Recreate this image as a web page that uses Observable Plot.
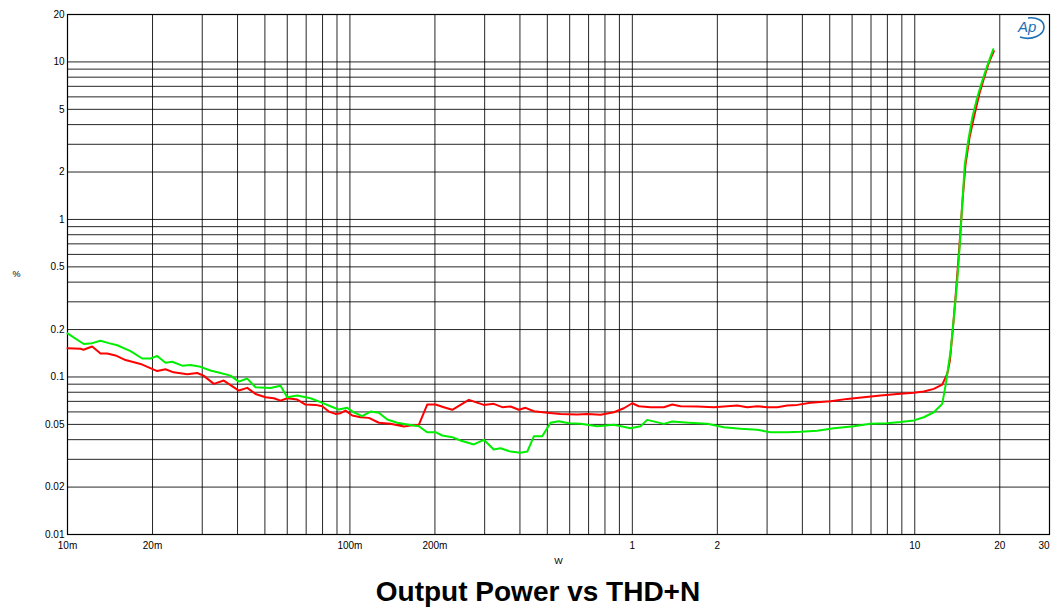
<!DOCTYPE html>
<html><head><meta charset="utf-8">
<script src="https://cdn.jsdelivr.net/npm/d3@7"></script>
<script src="https://cdn.jsdelivr.net/npm/@observablehq/plot@0.6"></script>
<style>
body{margin:0;background:#fff;font-family:"Liberation Sans",Arial,sans-serif;}
#wrap{position:relative;width:1051px;height:607px;overflow:hidden;}
#title{position:absolute;left:0;top:578px;width:1076px;text-align:center;font-weight:bold;font-size:28px;line-height:28px;color:#000;}
#logo{position:absolute;left:1014px;top:16px;}
</style></head>
<body><div id="wrap"><div id="chart"></div>
<svg id="logo" width="32" height="24" viewBox="0 0 32 24">
<path d="M6 21 C 18 25, 30 19, 30 11 C 30 4, 22 1, 14 2" fill="none" stroke="#1a6fb5" stroke-width="1.6"/>
<text x="4" y="16" font-family="Liberation Sans, Arial" font-style="italic" font-size="15" fill="#1a6fb5">Ap</text>
</svg>
<div id="title">Output Power vs THD+N</div></div>
<script>
const xTicks = [0.01,0.02,0.05,0.1,0.2,0.5,1,2,5,10,20,30];
const xTickLabels = ["10m","20m","50m","100m","200m","500m","1","2","5","10","20","30"];
const yTicks = [0.01,0.02,0.05,0.1,0.2,0.5,1,2,5,10,20];
const yTickLabels = ["0.01","0.02","0.05","0.1","0.2","0.5","1","2","5","10","20"];

const redX = [0.0100,0.01112,0.01139,0.01223,0.01309,0.01382,0.01479,0.01605,0.01814,0.02078,0.02223,0.02374,0.02654,0.02880,0.03031,0.03297,0.03576,0.04042,0.04329,0.04632,0.05025,0.05377,0.05679,0.05998,0.06508,0.06963,0.07553,0.07978,0.08420,0.08892,0.09262,0.09647,0.1019,0.1090,0.1167,0.1266,0.1392,0.1552,0.1639,0.1754,0.1878,0.2010,0.2150,0.2303,0.2636,0.2980,0.3231,0.3461,0.3705,0.3963,0.4187,0.4480,0.4995,0.5569,0.6381,0.6923,0.7717,0.8602,0.9331,0.9991,1.054,1.160,1.293,1.385,1.481,1.698,1.944,2.168,2.352,2.552,2.769,3.004,3.260,3.536,3.837,4.276,5.032,5.768,6.602,7.568,8.670,9.93,10.77,11.68,12.51,13.04,13.32,13.69,14.03,14.41,14.73,15.13,15.63,16.19,16.92,17.57,18.30,19.06];
const redY = [0.152,0.151,0.149,0.156,0.141,0.141,0.137,0.128,0.121,0.109,0.112,0.107,0.104,0.106,0.102,0.0904,0.0949,0.082,0.0853,0.078,0.0743,0.0733,0.0708,0.0733,0.0719,0.0668,0.0665,0.0652,0.0603,0.0583,0.0589,0.0612,0.0569,0.0555,0.055,0.0512,0.0504,0.0485,0.0492,0.0497,0.0668,0.0668,0.0643,0.0619,0.0716,0.0665,0.0675,0.0643,0.0649,0.0619,0.0637,0.0606,0.0592,0.0583,0.0577,0.0583,0.0575,0.0597,0.0633,0.0681,0.0652,0.0643,0.0643,0.0668,0.0652,0.0649,0.0643,0.0652,0.066,0.0643,0.0652,0.0643,0.0643,0.0659,0.0665,0.0685,0.0701,0.0726,0.0743,0.0763,0.0781,0.0793,0.0808,0.0840,0.0895,0.105,0.127,0.217,0.369,0.698,1.25,2.24,3.31,4.43,6.24,7.85,9.9,11.7];

const greenX = [0.0100,0.01142,0.01223,0.01309,0.01400,0.01500,0.01672,0.01839,0.01968,0.02078,0.02223,0.02348,0.02549,0.02727,0.02958,0.03209,0.03482,0.03778,0.04042,0.04329,0.04632,0.05235,0.05679,0.05998,0.06508,0.07253,0.07868,0.08535,0.09135,0.09781,0.1032,0.1105,0.1183,0.1266,0.1356,0.1471,0.1596,0.1754,0.1878,0.2010,0.2122,0.2303,0.2464,0.2747,0.2980,0.3231,0.3414,0.3705,0.4018,0.4246,0.4480,0.4797,0.5132,0.5492,0.5960,0.6556,0.7510,0.8602,0.9854,1.069,1.129,1.293,1.385,1.585,1.842,2.109,2.416,2.769,3.086,3.536,3.941,4.515,5.170,6.086,6.975,7.991,8.906,9.93,10.77,11.68,12.51,12.85,13.40,13.76,14.14,14.44,14.73,15.04,15.46,15.98,16.64,17.34,18.15,18.97];
const greenY = [0.189,0.162,0.164,0.170,0.164,0.159,0.146,0.131,0.131,0.136,0.123,0.125,0.118,0.119,0.116,0.110,0.106,0.102,0.0935,0.0977,0.086,0.085,0.088,0.0743,0.0763,0.0733,0.0692,0.0652,0.0621,0.0637,0.0597,0.0564,0.0603,0.0592,0.0537,0.0512,0.050,0.0487,0.0446,0.0446,0.0425,0.0415,0.0395,0.0373,0.0399,0.0346,0.0353,0.0336,0.033,0.0336,0.042,0.042,0.0512,0.0524,0.0509,0.0504,0.0487,0.0497,0.0473,0.0487,0.0534,0.0504,0.0521,0.0512,0.0504,0.048,0.0469,0.0462,0.0446,0.0446,0.0449,0.0456,0.0473,0.0487,0.0504,0.0509,0.0517,0.0530,0.0555,0.0597,0.0675,0.0882,0.147,0.239,0.409,0.698,1.25,2.24,3.15,4.43,5.94,7.6,9.69,12.05];

const red = redX.map((x,i)=>({x, y: redY[i]}));
const green = greenX.map((x,i)=>({x, y: greenY[i]}));

// grid positions: 1..9 per decade
const gridX = [], gridY = [];
for (const d of [0.01,0.1,1,10]) for (let k=1;k<=9;k++){ const v=+(d*k).toPrecision(3); if (v>=0.01 && v<=30) gridX.push(v); if (v>=0.01 && v<=20) gridY.push(v); }

const xFmt = new Map(xTicks.map((t,i)=>[t,xTickLabels[i]]));
const yFmt = new Map(yTicks.map((t,i)=>[t,yTickLabels[i]]));
const xTicksMain = xTicks.slice(0, -1);
const xTickLast = xTicks.slice(-1);

const chart = Plot.plot({
  width: 1051, height: 572,
  marginLeft: 67, marginRight: 2, marginTop: 14, marginBottom: 38,
  style: {fontFamily: '"Liberation Sans", Arial, sans-serif', fontSize: "10px", color: "#000", background: "#fff"},
  x: {type: "log", domain: [0.01, 30]},
  y: {type: "log", domain: [0.01, 20]},
  marks: [
    Plot.ruleX(gridX, {stroke: "#000", strokeOpacity: 0.85, strokeWidth: 1}),
    Plot.ruleY(gridY, {stroke: "#000", strokeOpacity: 0.85, strokeWidth: 1}),
    Plot.frame({stroke: "#000", strokeWidth: 1.2}),
    Plot.axisX(xTicksMain, {tickSize: 0, tickPadding: 7, tickFormat: d => xFmt.get(d), label: null, fontSize: 10}),
    Plot.axisX(xTickLast, {tickSize: 0, tickPadding: 7, tickFormat: d => xFmt.get(d), label: null, fontSize: 10, textAnchor: "end", dx: 0}),
    Plot.axisY(yTicks, {tickSize: 0, tickPadding: 3, tickFormat: d => yFmt.get(d), label: null, fontSize: 10}),
    Plot.text(["W"], {frameAnchor: "bottom", dy: 29, fontSize: 9}),
    Plot.text(["%"], {frameAnchor: "left", dx: -55, fontSize: 9}),
    Plot.line(red, {x: "x", y: "y", stroke: "#ff0000", strokeWidth: 2}),
    Plot.line(green, {x: "x", y: "y", stroke: "#00ee00", strokeWidth: 2})
  ]
});
document.getElementById("chart").appendChild(chart);
</script></body></html>
